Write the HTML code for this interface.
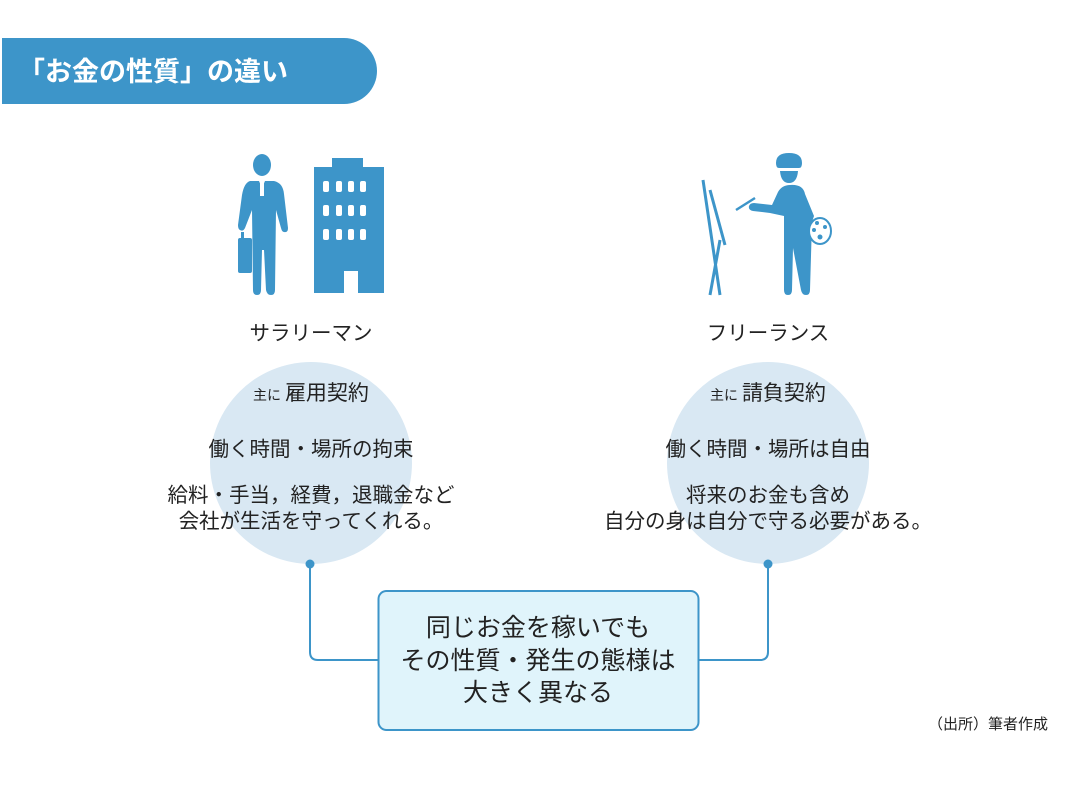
<!DOCTYPE html>
<html><head><meta charset="utf-8"><style>
html,body{margin:0;padding:0;background:#fff;}
body{width:1088px;height:794px;overflow:hidden;}
text{font-family:"Liberation Sans","Noto Sans CJK JP",sans-serif;}
</style></head><body>
<svg width="1088" height="794" viewBox="0 0 1088 794" xmlns="http://www.w3.org/2000/svg">
<path d="M2 38 H344 A33 33 0 0 1 344 104 H2 Z" fill="#3d95c9"/>
<text x="18" y="81" font-size="27" font-weight="bold" fill="#fff">「お金の性質」の違い</text>

<g fill="#3d95c9">
<ellipse cx="262" cy="165" rx="9" ry="11"/>
<path d="M250 181 L259 181 L262 188 L265 181 L274 181 Q283 183 284 194 L288 228 Q288 233 284 232 Q282 232 281 228 L276 210 L275 290 Q275 295 271 295 Q267 295 266 290 L264 250 L262 250 L261 290 Q261 295 257 295 Q253 295 253 290 L252 210 L245 228 Q243 232 240 230 Q238 229 238 225 L242 195 Q244 183 250 181 Z"/>
<rect x="238" y="238" width="14" height="35" rx="2"/>
<rect x="241" y="232" width="3" height="6"/>
<path d="M314 167 H332 V158 H363 V167 H384 V293 H358 V271 H344 V293 H314 Z"/>
<path d="M789 153 Q802 153 802 163 Q802 168 799 168 H779 Q776 168 776 163 Q776 153 789 153 Z"/>
<path d="M780 171 H798 Q797 183 789 183 Q781 183 780 171 Z"/>
<path d="M790 185 Q803 184 805 194 L814 216 L812 222 L810 290 Q810 295 806 295 Q802 295 801 290 L793 248 L792 290 Q792 295 788 295 Q784 295 784 290 L784 216 L770 213 L753 211 Q748 210 749 206 Q750 203 754 203 L772 205 L778 192 Q782 185 790 185 Z"/>
<path d="M736 210 L755 198" stroke="#3d95c9" stroke-width="2.5" fill="none"/>
<path d="M703 180 L720 295 M710 190 L725 245 M720 240 L710 295" stroke="#3d95c9" stroke-width="3" fill="none"/>
</g>
<g fill="#fff">
<rect x="260" y="183" width="4" height="13"/>
<rect x="323" y="181" width="6" height="11" rx="2"/><rect x="336" y="181" width="6" height="11" rx="2"/><rect x="348" y="181" width="6" height="11" rx="2"/><rect x="360" y="181" width="6" height="11" rx="2"/>
<rect x="323" y="205" width="6" height="11" rx="2"/><rect x="336" y="205" width="6" height="11" rx="2"/><rect x="348" y="205" width="6" height="11" rx="2"/><rect x="360" y="205" width="6" height="11" rx="2"/>
<rect x="323" y="229" width="6" height="11" rx="2"/><rect x="336" y="229" width="6" height="11" rx="2"/><rect x="348" y="229" width="6" height="11" rx="2"/><rect x="360" y="229" width="6" height="11" rx="2"/>
</g>
<ellipse cx="820" cy="231" rx="11" ry="13" fill="#fff" stroke="#3d95c9" stroke-width="2"/>
<g fill="#3d95c9"><circle cx="817" cy="223" r="2"/><circle cx="825" cy="227" r="2"/><circle cx="814" cy="230" r="2"/><circle cx="820" cy="237" r="2.5"/></g>

<text x="311" y="340" font-size="20.5" text-anchor="middle" fill="#222">サラリーマン</text>
<text x="768" y="340" font-size="20.5" text-anchor="middle" fill="#222">フリーランス</text>

<circle cx="311" cy="463" r="101" fill="#d9e8f3"/>
<circle cx="768" cy="463" r="101" fill="#d9e8f3"/>

<g fill="#222" text-anchor="middle">
<text x="311" y="400"><tspan font-size="14">主に </tspan><tspan font-size="21">雇用契約</tspan></text>
<text x="311" y="456" font-size="20.5">働く時間・場所の拘束</text>
<text x="311" y="502" font-size="20.5">給料・手当，経費，退職金など</text>
<text x="311" y="528" font-size="20.5">会社が生活を守ってくれる。</text>
<text x="768" y="400"><tspan font-size="14">主に </tspan><tspan font-size="21">請負契約</tspan></text>
<text x="768" y="456" font-size="20.5">働く時間・場所は自由</text>
<text x="768" y="502" font-size="20.5">将来のお金も含め</text>
<text x="768" y="528" font-size="20.5">自分の身は自分で守る必要がある。</text>
</g>

<g stroke="#3d95c9" stroke-width="2" fill="none">
<path d="M310 564 V652 Q310 660 318 660 H378"/>
<path d="M768 564 V652 Q768 660 760 660 H699"/>
</g>
<circle cx="310" cy="564" r="4.5" fill="#3d95c9"/>
<circle cx="768" cy="564" r="4.5" fill="#3d95c9"/>

<rect x="378.5" y="591" width="320" height="139" rx="8" fill="#e0f4fb" stroke="#3d95c9" stroke-width="2"/>
<g fill="#222" font-size="25" text-anchor="middle">
<text x="538" y="636">同じお金を稼いでも</text>
<text x="538" y="669">その性質・発生の態様は</text>
<text x="538" y="701">大きく異なる</text>
</g>
<text x="1048" y="729" font-size="15" text-anchor="end" fill="#222">（出所）筆者作成</text>
</svg>
</body></html>
